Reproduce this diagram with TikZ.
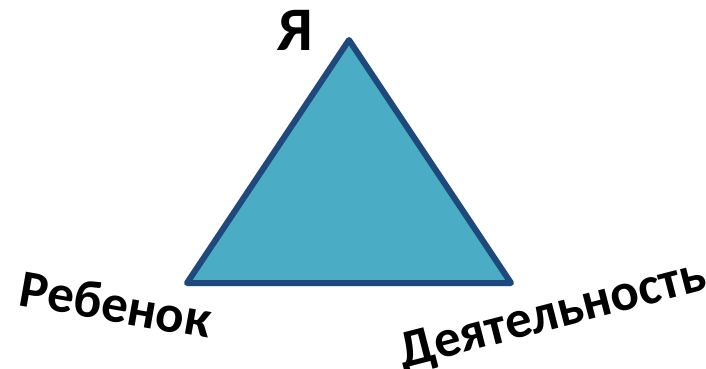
\documentclass[tikz,border=0pt]{standalone}
\usepackage{fontspec}
\setmainfont{Carlito}
\usetikzlibrary{shadows}
\definecolor{triFill}{HTML}{4BACC6}
\definecolor{triEdge}{HTML}{1F497D}
\begin{document}
\begin{tikzpicture}[x=1pt, y=-1pt]
\tikzstyle{word}=[font=\bfseries, text=black, inner sep=0pt]
\useasboundingbox (0,0) rectangle (706,369);
\draw[triEdge, fill=triFill, line width=6pt, line join=round, drop shadow={opacity=0.25, shadow xshift=1pt, shadow yshift=-3pt}] (349,40) -- (511,283) -- (187,283) -- cycle;
\node[word, font=\fontsize{62}{64}\selectfont\bfseries] (ya) at (295,30) {Я};
\node[word, font=\fontsize{53}{55}\selectfont\bfseries, rotate=-10] (rebenok) at (116,304) {Ребенок};
\node[word, font=\fontsize{53}{55}\selectfont\bfseries, rotate=14.5] (deyat) at (553,316) {Деятельность};
\end{tikzpicture}
\end{document}
